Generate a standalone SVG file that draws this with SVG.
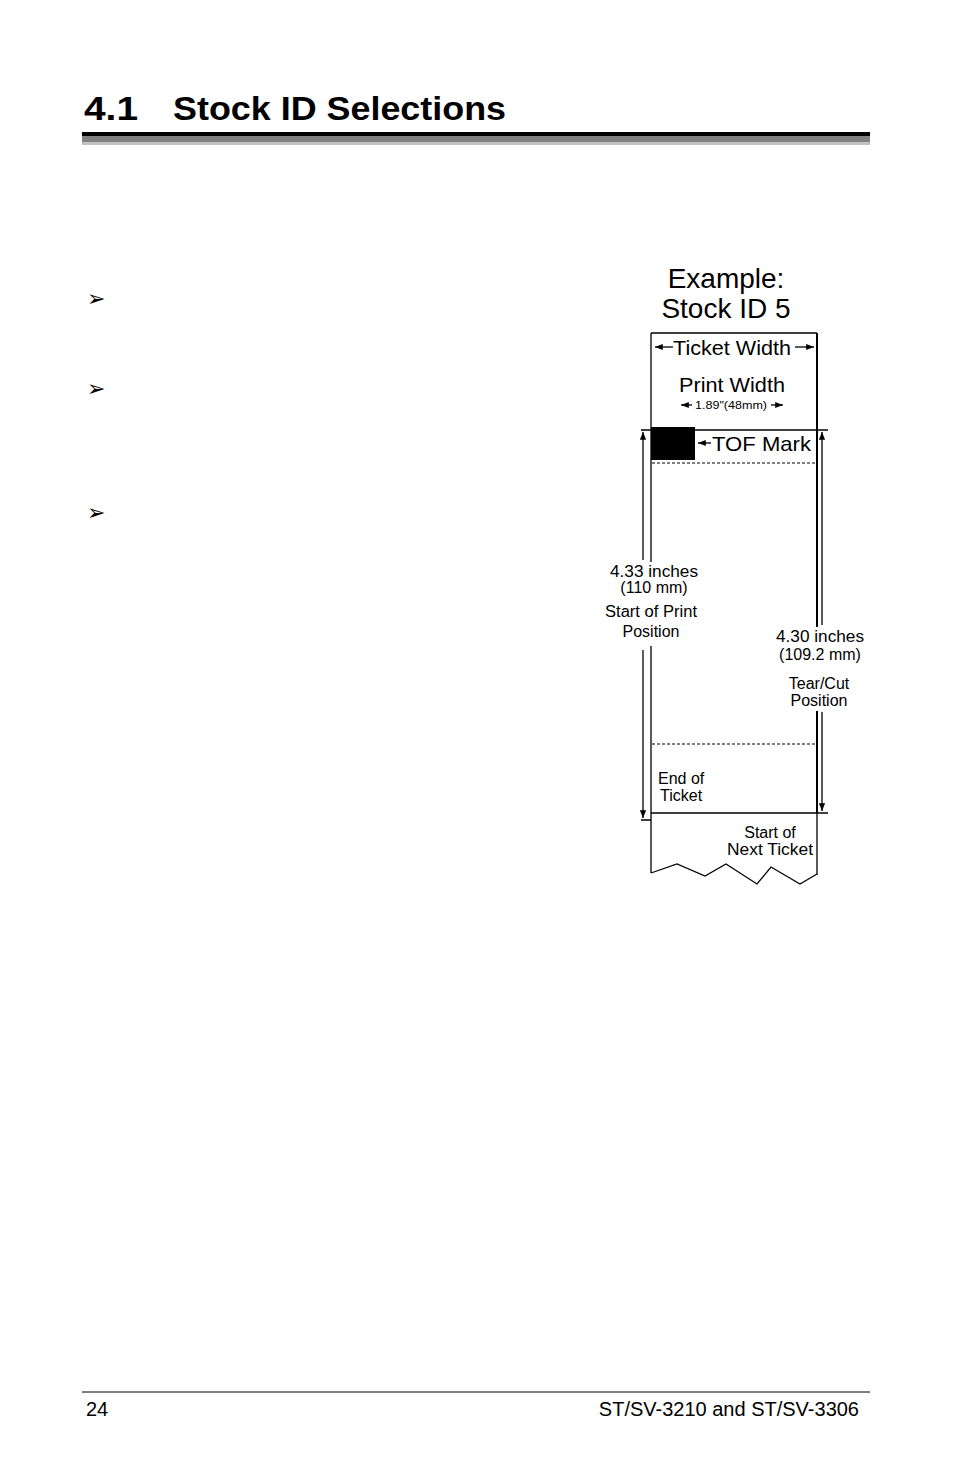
<svg xmlns="http://www.w3.org/2000/svg" width="954" height="1475" viewBox="0 0 954 1475">
<style>
text{font-family:"Liberation Sans",Arial,sans-serif;fill:#000}
.l{stroke:#000;fill:none;stroke-width:1.3}
.d{stroke:#000;fill:none;stroke-width:1;stroke-dasharray:3,2}
</style>
<defs>
<marker id="a" viewBox="0 0 10 10" refX="10" refY="5" markerWidth="6" markerHeight="6" orient="auto"><path d="M0,1L10,5L0,9z" fill="#000"/></marker>
</defs>
<rect width="954" height="1475" fill="#fff"/>
<text x="84" y="120" font-size="34" font-weight="bold" textLength="54" lengthAdjust="spacingAndGlyphs">4.1</text>
<text x="173" y="120" font-size="34" font-weight="bold" textLength="333" lengthAdjust="spacingAndGlyphs">Stock ID Selections</text>
<rect x="82" y="132" width="788" height="4" fill="#000"/>
<rect x="82" y="136" width="788" height="6" fill="#808080"/>
<rect x="82" y="142" width="788" height="3" fill="#c0c0c0"/>
<g font-size="22"><text x="87" y="306">➢</text><text x="87" y="396">➢</text><text x="87" y="520">➢</text></g>
<g id="title"><text x="726" y="288" font-size="28" text-anchor="middle">Example:</text><text x="726" y="318" font-size="28" text-anchor="middle">Stock ID 5</text></g>
<g id="ticket">
<path class="l" d="M651,333H817M651,333V873M651,813H817"/>
<path d="M817,333V813" stroke="#000" stroke-width="2"/>
<path class="l" d="M817,813V875M651,873L677,864L705,876L726,864L757,884L771,867L800,884L817,874"/>
<path class="l" d="M641,430H828"/>
<rect x="651" y="427" width="44" height="33" fill="#000"/>
<path class="d" d="M652,463H815M652,744H815"/>
</g>
<g id="connectors">
<path class="l" d="M673,347H655" marker-end="url(#a)"/>
<path class="l" d="M795,347H814" marker-end="url(#a)"/>
<path class="l" d="M692,405H681" marker-end="url(#a)"/>
<path class="l" d="M771,405H783" marker-end="url(#a)"/>
<path class="l" d="M711,443H698" marker-end="url(#a)"/>
<path class="l" d="M643,560V432" marker-end="url(#a)"/>
<path class="l" d="M643,650V818" marker-end="url(#a)"/>
<path class="l" d="M641,820H651M817,813H828"/>
<path class="l" d="M822,625V432" marker-end="url(#a)"/>
<path class="l" d="M822,712V811" marker-end="url(#a)"/>
</g>
<g id="labels">
<rect x="603" y="562" width="98" height="84" fill="#fff"/>
<rect x="774" y="627" width="93" height="84" fill="#fff"/>
<text x="732" y="355" font-size="21" text-anchor="middle" textLength="118" lengthAdjust="spacingAndGlyphs">Ticket Width</text>
<text x="732" y="392" font-size="21" text-anchor="middle" textLength="106" lengthAdjust="spacingAndGlyphs">Print Width</text>
<text x="731" y="409" font-size="11" text-anchor="middle" textLength="72" lengthAdjust="spacingAndGlyphs">1.89"(48mm)</text>
<text x="712" y="451" font-size="21" textLength="99" lengthAdjust="spacingAndGlyphs">TOF Mark</text>
<text x="654" y="577" font-size="16" text-anchor="middle" textLength="88" lengthAdjust="spacingAndGlyphs">4.33 inches</text>
<text x="654" y="593" font-size="16" text-anchor="middle">(110 mm)</text>
<text x="651" y="617" font-size="16" text-anchor="middle" textLength="92" lengthAdjust="spacingAndGlyphs">Start of Print</text>
<text x="651" y="637" font-size="16" text-anchor="middle">Position</text>
<text x="820" y="642" font-size="16" text-anchor="middle" textLength="88" lengthAdjust="spacingAndGlyphs">4.30 inches</text>
<text x="820" y="660" font-size="16" text-anchor="middle">(109.2 mm)</text>
<text x="819" y="689" font-size="16" text-anchor="middle">Tear/Cut</text>
<text x="819" y="706" font-size="16" text-anchor="middle">Position</text>
<text x="658" y="784" font-size="16">End of</text>
<text x="660" y="801" font-size="16">Ticket</text>
<text x="770" y="838" font-size="16" text-anchor="middle">Start of</text>
<text x="770" y="855" font-size="16" text-anchor="middle" textLength="86" lengthAdjust="spacingAndGlyphs">Next Ticket</text>
</g>
<path d="M82,1392H870" stroke="#000" stroke-width="1"/>
<text x="86" y="1416" font-size="20">24</text>
<text x="859" y="1416" font-size="20" text-anchor="end">ST/SV-3210 and ST/SV-3306</text>
</svg>
